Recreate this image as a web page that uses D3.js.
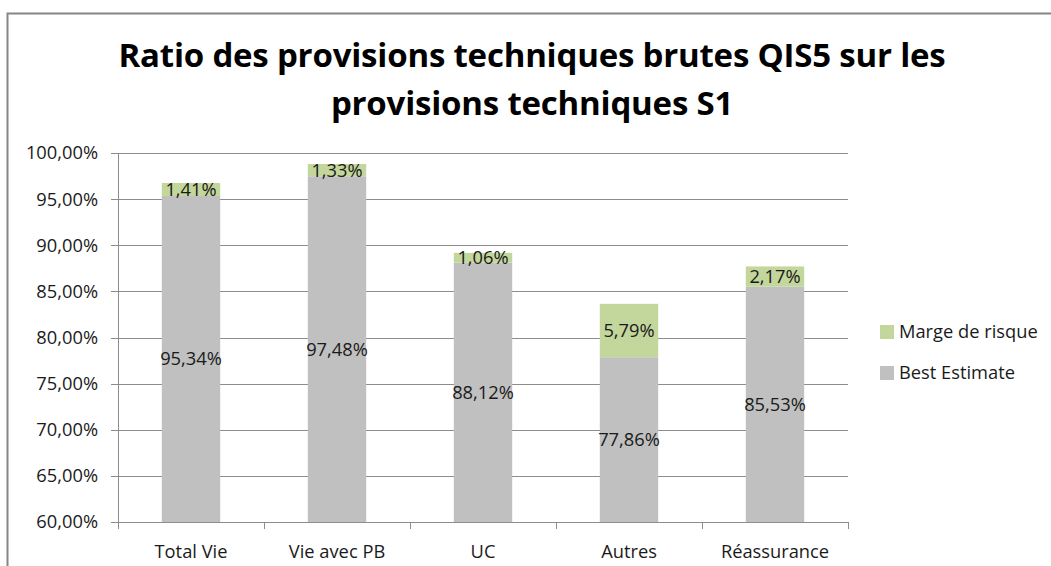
<!DOCTYPE html>
<html>
<head>
<meta charset="utf-8">
<script src="https://cdn.jsdelivr.net/npm/d3@7"></script>
<style>
  html, body { margin: 0; padding: 0; background: #fff; }
  svg { display: block; font-family: "Open Sans", Lato, sans-serif; }
</style>
</head>
<body>
<div id="chart"></div>
<script>
// Stacked bars: Best Estimate + Marge de risque, axis starts at 60 %
var categories = ['Total Vie', 'Vie avec PB', 'UC', 'Autres', 'Réassurance'];
var bestEstimate = [95.34, 97.48, 88.12, 77.86, 85.53];
var margeRisque = [1.41, 1.33, 1.06, 5.79, 2.17];
var yTicks = [60, 65, 70, 75, 80, 85, 90, 95, 100];
var seriesNames = ['Marge de risque', 'Best Estimate'];
var seriesColors = { 'Best Estimate': '#c0c0c0', 'Marge de risque': '#c3d69b' };

var width = 1051, height = 566;
var plot = { left: 118, right: 848, top: 153, bottom: 522 };
var fontSize = 18.3;

function fmt(v) { return v.toFixed(2).replace('.', ',') + '%'; }

var svg = d3.select('#chart').append('svg')
    .attr('width', width)
    .attr('height', height);

// outer chart frame
svg.append('rect')
    .attr('x', 7.5).attr('y', 13.5)
    .attr('width', 1100).attr('height', 600)
    .attr('fill', 'none')
    .attr('stroke', '#868686')
    .attr('stroke-width', 2);

// --- Title ---
var title = svg.append('text')
    .attr('text-anchor', 'middle')
    .attr('font-size', 33)
    .attr('font-weight', 'bold')
    .attr('letter-spacing', -0.2)
    .attr('fill', '#000');
title.append('tspan').attr('x', 532).attr('y', 67)
    .text('Ratio des provisions techniques brutes QIS5 sur les');
title.append('tspan').attr('x', 532).attr('y', 115)
    .text('provisions techniques S1');

// --- Scales ---
var x = d3.scaleBand()
    .domain(categories)
    .range([plot.left, plot.right])
    .paddingInner(0.6)
    .paddingOuter(0.3);

var y = d3.scaleLinear()
    .domain([60, 100])
    .range([plot.bottom, plot.top]);

// gridlines
svg.append('g')
    .selectAll('line')
    .data(yTicks)
    .join('line')
    .attr('x1', plot.left - 7)
    .attr('x2', plot.right)
    .attr('y1', function (d) { return Math.round(y(d)) + 0.5; })
    .attr('y2', function (d) { return Math.round(y(d)) + 0.5; })
    .attr('stroke', '#8c8c8c')
    .attr('stroke-width', 1);

// y tick labels
svg.append('g')
    .selectAll('text')
    .data(yTicks)
    .join('text')
    .attr('x', 98)
    .attr('y', function (d) { return y(d); })
    .attr('dy', '0.35em')
    .attr('text-anchor', 'end')
    .attr('font-size', fontSize)
    .attr('fill', '#1a1a1a')
    .text(function (d) { return d.toFixed(2).replace('.', ',') + '%'; });

// y axis line
svg.append('line')
    .attr('x1', plot.left + 0.5).attr('x2', plot.left + 0.5)
    .attr('y1', plot.top).attr('y2', plot.bottom)
    .attr('stroke', '#8c8c8c');

// --- Bars ---
var rows = categories.map(function (c, i) {
    return { cat: c, be: bestEstimate[i], mr: margeRisque[i] };
});

var bars = svg.append('g');
bars.selectAll('rect.be')
    .data(rows)
    .join('rect')
    .attr('class', 'be')
    .attr('x', function (d) { return x(d.cat); })
    .attr('width', x.bandwidth())
    .attr('y', function (d) { return y(d.be); })
    .attr('height', function (d) { return y(60) - y(d.be); })
    .attr('fill', seriesColors['Best Estimate']);

bars.selectAll('rect.mr')
    .data(rows)
    .join('rect')
    .attr('class', 'mr')
    .attr('x', function (d) { return x(d.cat); })
    .attr('width', x.bandwidth())
    .attr('y', function (d) { return y(d.be + d.mr); })
    .attr('height', function (d) { return y(d.be) - y(d.be + d.mr); })
    .attr('fill', seriesColors['Marge de risque']);

// value labels
var labels = svg.append('g')
    .attr('text-anchor', 'middle')
    .attr('font-size', fontSize)
    .attr('fill', '#1a1a1a');
labels.selectAll('text.be')
    .data(rows)
    .join('text')
    .attr('class', 'be')
    .attr('x', function (d) { return x(d.cat) + x.bandwidth() / 2; })
    .attr('y', function (d) { return y((60 + d.be) / 2); })
    .attr('dy', '0.35em')
    .text(function (d) { return fmt(d.be); });
labels.selectAll('text.mr')
    .data(rows)
    .join('text')
    .attr('class', 'mr')
    .attr('x', function (d) { return x(d.cat) + x.bandwidth() / 2; })
    .attr('y', function (d) { return y(d.be + d.mr / 2); })
    .attr('dy', '0.35em')
    .text(function (d) { return fmt(d.mr); });

// --- X axis ---
var xAxis = svg.append('g');
xAxis.append('line')
    .attr('x1', plot.left).attr('x2', plot.right)
    .attr('y1', plot.bottom + 0.5).attr('y2', plot.bottom + 0.5)
    .attr('stroke', '#8c8c8c');
var step = x.step();
xAxis.selectAll('line.tick')
    .data(d3.range(categories.length + 1))
    .join('line')
    .attr('class', 'tick')
    .attr('x1', function (i) { return Math.round(plot.left + i * step) + 0.5; })
    .attr('x2', function (i) { return Math.round(plot.left + i * step) + 0.5; })
    .attr('y1', plot.bottom)
    .attr('y2', plot.bottom + 7)
    .attr('stroke', '#8c8c8c');
xAxis.selectAll('text')
    .data(categories)
    .join('text')
    .attr('x', function (d) { return x(d) + x.bandwidth() / 2; })
    .attr('y', 552)
    .attr('dy', '0.35em')
    .attr('text-anchor', 'middle')
    .attr('font-size', fontSize)
    .attr('fill', '#1a1a1a')
    .text(function (d) { return d; });

// --- Legend ---
var legend = svg.append('g')
    .selectAll('g')
    .data(seriesNames)
    .join('g')
    .attr('transform', function (d, i) { return 'translate(880,' + (332 + i * 41) + ')'; });
legend.append('rect')
    .attr('x', 0).attr('y', -7)
    .attr('width', 14).attr('height', 14)
    .attr('fill', function (d) { return seriesColors[d]; });
legend.append('text')
    .attr('x', 19)
    .attr('dy', '0.35em')
    .attr('font-size', fontSize)
    .attr('fill', '#1a1a1a')
    .text(function (d) { return d; });
</script>
</body>
</html>
